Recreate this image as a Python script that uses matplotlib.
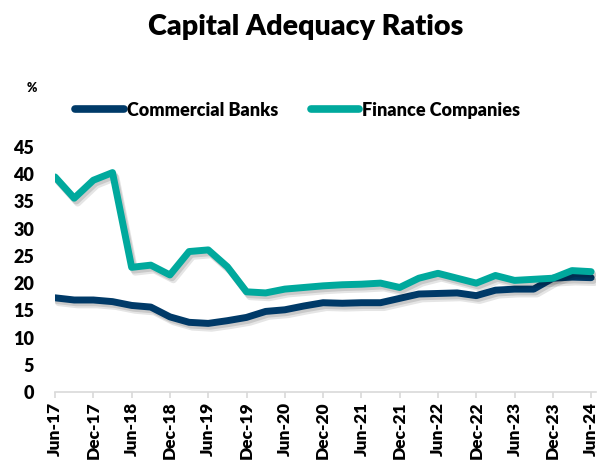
import matplotlib
matplotlib.use("Agg")
import matplotlib.pyplot as plt
import matplotlib.patheffects as pe
from matplotlib.lines import Line2D

# Quarterly observations, Jun-17 .. Jun-24
quarters = ["Jun-17", "Sep-17", "Dec-17", "Mar-18", "Jun-18", "Sep-18", "Dec-18",
            "Mar-19", "Jun-19", "Sep-19", "Dec-19", "Mar-20", "Jun-20", "Sep-20",
            "Dec-20", "Mar-21", "Jun-21", "Sep-21", "Dec-21", "Mar-22", "Jun-22",
            "Sep-22", "Dec-22", "Mar-23", "Jun-23", "Sep-23", "Dec-23", "Mar-24",
            "Jun-24"]

commercial_banks = [17.3, 16.9, 16.9, 16.6, 15.9, 15.6, 13.8, 12.8, 12.6, 13.1,
                    13.7, 14.8, 15.1, 15.8, 16.4, 16.3, 16.4, 16.4, 17.2, 18.0,
                    18.1, 18.2, 17.7, 18.7, 18.9, 18.9, 20.9, 21.1, 21.0]

finance_companies = [39.5, 35.6, 38.9, 40.3, 22.9, 23.3, 21.5, 25.8, 26.1, 23.0,
                     18.4, 18.2, 18.9, 19.2, 19.5, 19.7, 19.8, 20.0, 19.2, 20.9,
                     21.8, 20.9, 20.0, 21.4, 20.5, 20.7, 20.9, 22.3, 22.1]

tick_labels = quarters[::2]
y_ticks = [0, 5, 10, 15, 20, 25, 30, 35, 40, 45]

navy = "#003A68"
teal = "#00A99D"
font = "Lato"
weight = "heavy"

fig = plt.figure(figsize=(6.05, 4.67), dpi=100)
ax = fig.add_axes([0.091, 0.1606, 0.894, 0.5246])

x = list(range(len(quarters)))

shadow = [pe.SimpleLineShadow(offset=(2.5, -3.5), shadow_color="black", alpha=0.10),
          pe.SimpleLineShadow(offset=(1.5, -2.0), shadow_color="black", alpha=0.12),
          pe.Normal()]

ax.plot(x, commercial_banks, color=navy, lw=5.0, solid_capstyle="round",
        solid_joinstyle="round", path_effects=shadow, zorder=3)
ax.plot(x, finance_companies, color=teal, lw=5.0, solid_capstyle="round",
        solid_joinstyle="round", path_effects=shadow, zorder=4)

ax.set_xlim(0, 28.25)
ax.set_ylim(0, 45)
ax.set_xticks(x[::2])
ax.set_xticklabels(tick_labels, rotation=90, fontsize=12.5, fontweight=weight,
                   family=font, va="top", ha="center")
ax.set_yticks(y_ticks)
ax.set_yticklabels([str(v) for v in y_ticks], fontsize=13, fontweight=weight,
                   family=font)

for side in ["top", "right", "left"]:
    ax.spines[side].set_visible(False)
ax.spines["bottom"].set_color("#D9D9D9")
ax.spines["bottom"].set_linewidth(1.2)
ax.tick_params(axis="x", length=4, width=1.2, color="#D9D9D9", pad=3)
ax.tick_params(axis="y", length=0, pad=15)

fig.text(0.505, 0.942, "Capital Adequacy Ratios", ha="center", va="center",
         fontsize=20.6, fontweight=weight, family=font)
fig.text(0.052, 0.812, "%", ha="center", va="center", fontsize=9,
         fontweight=weight, family=font)

handles = [Line2D([], [], color=navy, lw=5.5, solid_capstyle="round"),
           Line2D([], [], color=teal, lw=5.5, solid_capstyle="round")]
fig.legend(handles, ["Commercial Banks", "Finance Companies"], ncol=2,
           loc="center", bbox_to_anchor=(0.492, 0.764), frameon=False,
           prop={"family": font, "weight": weight, "size": 13},
           handlelength=2.7, handletextpad=0.15, columnspacing=1.8)

fig.savefig("out.png", dpi=100)
